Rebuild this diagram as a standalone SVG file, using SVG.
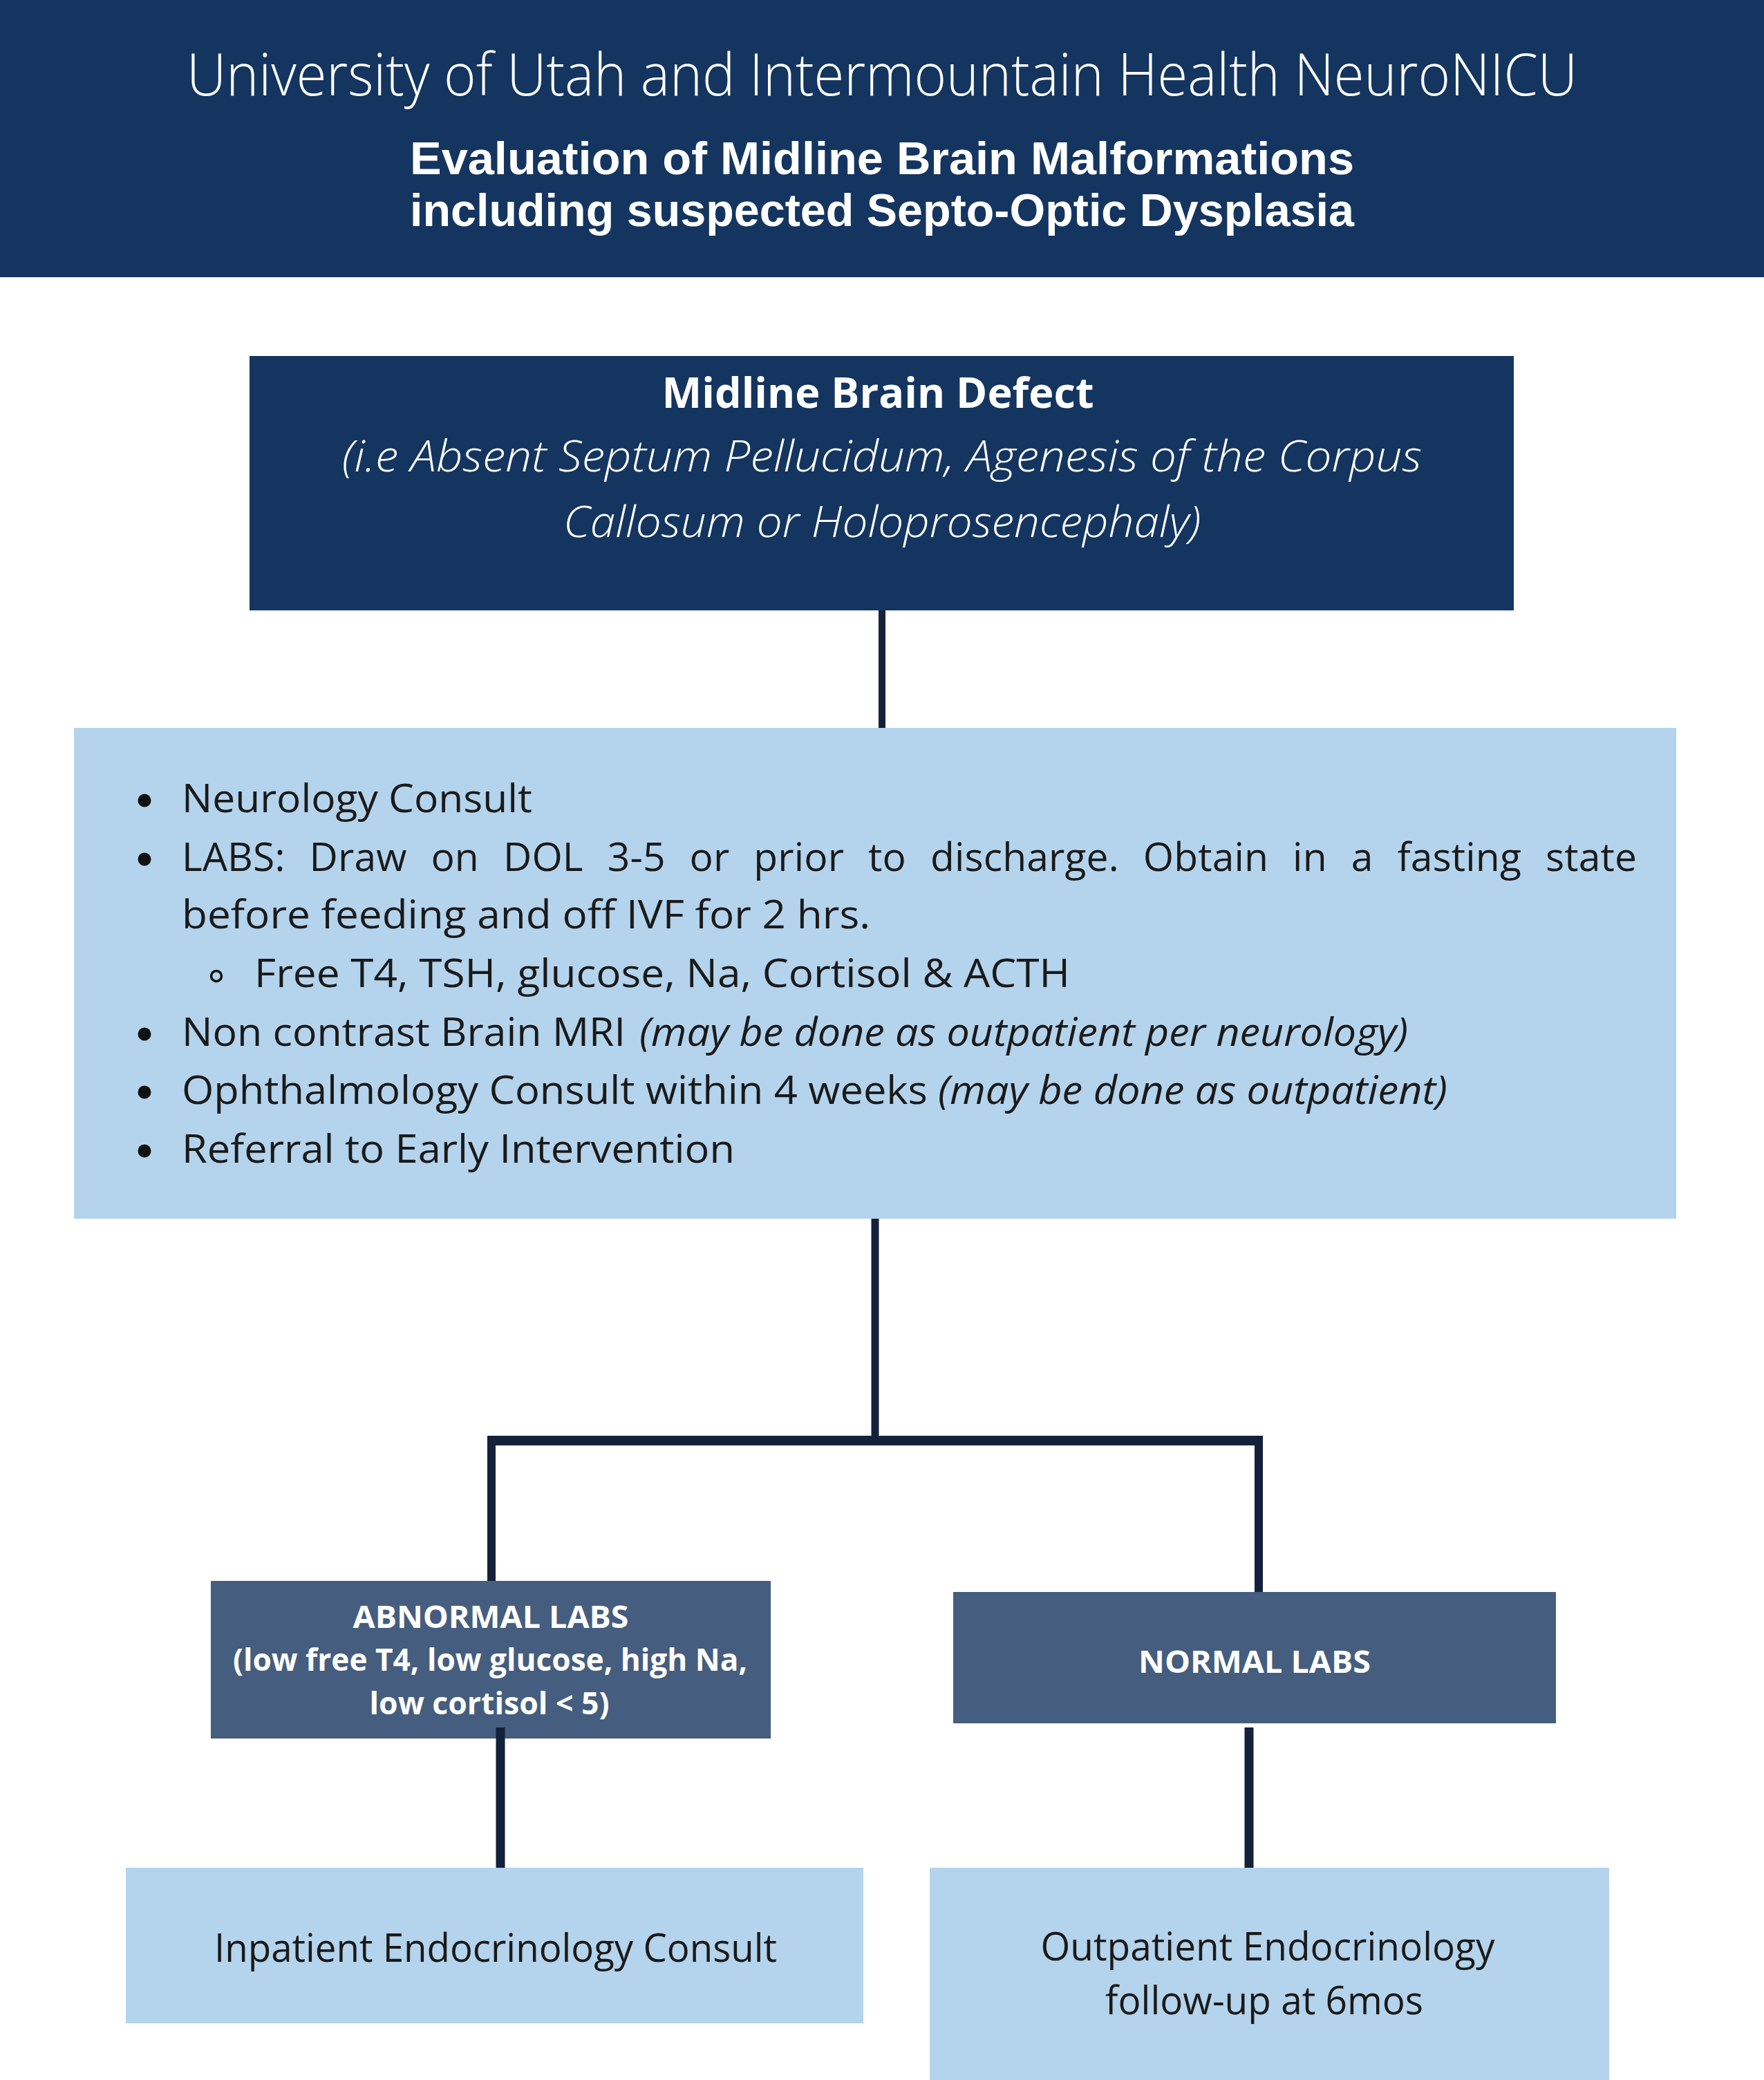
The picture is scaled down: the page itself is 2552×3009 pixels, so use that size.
<svg xmlns="http://www.w3.org/2000/svg" width="2552" height="3009" viewBox="0 0 2552 3009">
<style>
.dark{fill:#143560}
.light{fill:#B4D3EC}
.slate{fill:#455D7E}
.conn{stroke:#14213A;fill:none}
.w{fill:#FFFFFF;font-family:"Open Sans","Liberation Sans",sans-serif}
.wl{fill:#FFFFFF;font-family:"Liberation Sans","Open Sans",sans-serif}
.b{fill:#1A1A1A;font-family:"Open Sans","Liberation Sans",sans-serif;font-size:57px}
.bold{font-weight:700}
.lt{font-weight:300}
.it{font-style:italic}
.c{text-anchor:middle}
</style>
<rect width="2552" height="3009" fill="#FFFFFF"/>
<g id="header">
<rect class="dark" x="0" y="0" width="2552" height="401"/>
<text class="w lt c" x="1276" y="138" font-size="84" textLength="2012" lengthAdjust="spacingAndGlyphs">University of Utah and Intermountain Health NeuroNICU</text>
<text class="wl bold c" x="1276" y="252" font-size="66" textLength="1366" lengthAdjust="spacingAndGlyphs">Evaluation of Midline Brain Malformations</text>
<text class="wl bold c" x="1276" y="327" font-size="66" textLength="1366" lengthAdjust="spacingAndGlyphs">including suspected Septo-Optic Dysplasia</text>
</g>
<g id="connectors">
<line class="conn" x1="1276" y1="883" x2="1276" y2="1053" stroke-width="10"/>
<line class="conn" x1="1266" y1="1763" x2="1266" y2="2084" stroke-width="11"/>
<line class="conn" x1="705" y1="2084" x2="1827" y2="2084" stroke-width="14"/>
<line class="conn" x1="711" y1="2084" x2="711" y2="2287" stroke-width="12"/>
<line class="conn" x1="1821" y1="2084" x2="1821" y2="2303" stroke-width="12"/>
</g>
<g id="node-midline">
<rect class="dark" x="361" y="515" width="1829" height="368"/>
<text class="w bold c" x="1270" y="590" font-size="60" textLength="625" lengthAdjust="spacingAndGlyphs">Midline Brain Defect</text>
<text class="w lt it c" x="1276" y="682" font-size="62" textLength="1562" lengthAdjust="spacingAndGlyphs">(i.e Absent Septum Pellucidum, Agenesis of the Corpus</text>
<text class="w lt it c" x="1276" y="777" font-size="62" textLength="922" lengthAdjust="spacingAndGlyphs">Callosum or Holoprosencephaly)</text>
</g>
<g id="node-workup">
<rect class="light" x="107" y="1053" width="2318" height="710"/>
<g fill="#111111">
<circle cx="209" cy="1158" r="9.5"/>
<circle cx="209" cy="1243" r="9.5"/>
<circle cx="209" cy="1496" r="9.5"/>
<circle cx="209" cy="1580" r="9.5"/>
<circle cx="209" cy="1665" r="9.5"/>
</g>
<circle cx="313" cy="1412" r="7.5" fill="none" stroke="#111111" stroke-width="3.5"/>
<text class="b" x="263" y="1175" textLength="507" lengthAdjust="spacingAndGlyphs">Neurology Consult</text>
<text class="b" x="263" y="1260" word-spacing="20" textLength="2105" lengthAdjust="spacing">LABS: Draw on DOL 3-5 or prior to discharge. Obtain in a fasting state</text>
<text class="b" x="263" y="1343" textLength="996" lengthAdjust="spacingAndGlyphs">before feeding and off IVF for 2 hrs.</text>
<text class="b" x="368" y="1428" textLength="1180" lengthAdjust="spacingAndGlyphs">Free T4, TSH, glucose, Na, Cortisol &amp; ACTH</text>
<text class="b" x="263" y="1513" textLength="642" lengthAdjust="spacingAndGlyphs">Non contrast Brain MRI</text>
<text class="b it" x="925" y="1513" textLength="1112" lengthAdjust="spacingAndGlyphs">(may be done as outpatient per neurology)</text>
<text class="b" x="263" y="1597" textLength="1079" lengthAdjust="spacingAndGlyphs">Ophthalmology Consult within 4 weeks</text>
<text class="b it" x="1357" y="1597" textLength="737" lengthAdjust="spacingAndGlyphs">(may be done as outpatient)</text>
<text class="b" x="263" y="1682" textLength="800" lengthAdjust="spacingAndGlyphs">Referral to Early Intervention</text>
</g>
<g id="node-abnormal">
<rect class="slate" x="305" y="2287" width="810" height="228"/>
<text class="w bold c" x="710" y="2355" font-size="45" textLength="399" lengthAdjust="spacingAndGlyphs">ABNORMAL LABS</text>
<text class="w bold c" x="709" y="2417" font-size="45" textLength="744" lengthAdjust="spacingAndGlyphs">(low free T4, low glucose, high Na,</text>
<text class="w bold c" x="708" y="2480" font-size="45" textLength="347" lengthAdjust="spacingAndGlyphs">low cortisol &lt; 5)</text>
</g>
<g id="node-normal">
<rect class="slate" x="1379" y="2303" width="872" height="190"/>
<text class="w bold c" x="1815" y="2420" font-size="45" textLength="336" lengthAdjust="spacingAndGlyphs">NORMAL LABS</text>
</g>
<g id="connectors-lower">
<line class="conn" x1="724" y1="2499" x2="724" y2="2711" stroke-width="13"/>
<line class="conn" x1="1807" y1="2499" x2="1807" y2="2702" stroke-width="13"/>
</g>
<g id="node-inpatient">
<rect class="light" x="182" y="2702" width="1067" height="225"/>
<text class="b c" x="717" y="2838" textLength="814" lengthAdjust="spacingAndGlyphs">Inpatient Endocrinology Consult</text>
</g>
<g id="node-outpatient">
<rect class="light" x="1345" y="2702" width="983" height="307"/>
<text class="b c" x="1834" y="2836" textLength="657" lengthAdjust="spacingAndGlyphs">Outpatient Endocrinology</text>
<text class="b c" x="1829" y="2914" textLength="460" lengthAdjust="spacingAndGlyphs">follow-up at 6mos</text>
</g>
</svg>
